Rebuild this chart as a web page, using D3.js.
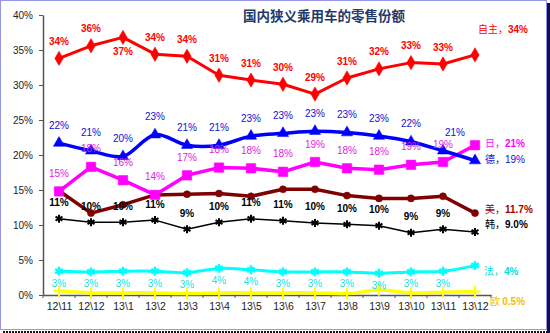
<!DOCTYPE html>
<html><head><meta charset="utf-8">
<script src="https://cdn.jsdelivr.net/npm/d3@7"></script>
<style>
html,body{margin:0;padding:0;background:#fff;}
svg{display:block;}
</style></head>
<body>
<script>
// ---- data ----
const categories = ["12\\11","12\\12","13\\1","13\\2","13\\3","13\\4","13\\5","13\\6","13\\7","13\\8","13\\9","13\\10","13\\11","13\\12"];
const yTicks = [0, 5, 10, 15, 20, 25, 30, 35, 40];
const zizhu = [33.8,35.6,36.8,34.4,34.1,31.4,30.7,30.1,28.7,31.0,32.3,33.2,33.0,34.3]; // 自主
const de    = [21.7,20.6,19.8,22.9,21.4,21.4,22.7,23.1,23.4,23.2,22.7,21.9,20.6,19.2]; // 德
const ri    = [14.8,18.3,16.4,14.3,17.1,18.2,18.1,17.6,19.0,18.1,17.9,18.6,19.0,21.4]; // 日
const mei   = [14.9,11.7,12.9,14.3,14.4,14.5,14.1,15.1,15.1,14.2,13.8,13.8,14.1,11.7]; // 美
const han   = [10.9,10.4,10.4,10.7,9.4,10.4,10.9,10.6,10.3,10.1,9.9,8.9,9.4,9.0];    // 韩
const fa    = [3.4,3.3,3.4,3.4,3.2,3.8,3.6,3.3,3.3,3.3,3.1,3.3,3.4,4.2];             // 法
const ou    = [0.6,0.3,0.3,0.3,0.2,0.3,0.3,0.3,0.3,0.2,0.7,0.3,0.4,0.5];             // 欧
const endLabels = ["自主，", "德，", "日，", "美，", "韩，", "法，", "欧 "];
const endValues = ["34%", "19%", "21%", "11.7%", "9.0%", "4%", "0.5%"];
const title = "国内狭义乘用车的零售份额";

// ---- drawing ----
const W = 550, H = 333;
const svg = d3.select("body").append("svg").attr("width", W).attr("height", H);
svg.append("rect").attr("width", W).attr("height", H).attr("fill", "#fff");

// frame
svg.append("rect").attr("x", 547).attr("y", 3).attr("width", 3).attr("height", 330).attr("fill", "#10104a");
svg.append("rect").attr("x", 0.5).attr("y", 0.5).attr("width", 546).attr("height", 329)
  .attr("fill", "none").attr("stroke", "#2a2ad8").attr("stroke-dasharray", "1,1");
svg.append("line").attr("x1", 3).attr("x2", 547).attr("y1", 332).attr("y2", 332)
  .attr("stroke", "#111").attr("stroke-width", 2).attr("stroke-dasharray", "2,1");

const x = d3.scalePoint().domain(categories).range([43, 491]).padding(0.5);
const y = d3.scaleLinear().domain([0, 40]).range([295, 15]);

const font = "'Liberation Sans', Arial, sans-serif";
const cjk = "'Noto Sans CJK SC', sans-serif";

// y axis
const ya = svg.append("g").attr("transform", "translate(43,0)")
  .call(d3.axisLeft(y).tickValues(yTicks).tickFormat(d => d + "%").tickSize(4).tickSizeOuter(0).tickPadding(6));
ya.select(".domain").attr("stroke", "#555").attr("stroke-width", 1.5);
ya.selectAll(".tick line").attr("stroke", "#555");
ya.selectAll(".tick text").attr("font-family", font).attr("font-size", "10px").attr("fill", "#222");

// x axis
const xa = svg.append("g").attr("transform", "translate(0,295)")
  .call(d3.axisBottom(x).tickSize(0).tickPadding(8));
xa.select(".domain").attr("stroke", "#555").attr("stroke-width", 1.5);
xa.selectAll(".tick text").attr("font-family", font).attr("font-size", "10.5px").attr("fill", "#222");
const step = x.step();
const bounds = categories.map(c => x(c) - step / 2).concat([x(categories[categories.length - 1]) + step / 2]);
svg.append("g").selectAll("line").data(bounds).join("line")
  .attr("x1", d => d).attr("x2", d => d).attr("y1", 295).attr("y2", 298)
  .attr("stroke", "#555");

// title
svg.append("text").attr("x", 243).attr("y", 21).text(title)
  .attr("font-family", cjk).attr("font-size", "13.5px").attr("font-weight", "bold").attr("fill", "#1f3a6a");

const series = [
  {vals: ou,    color: "#ffff00", width: 3.5, curve: d3.curveCatmullRom, sym: d3.symbolPlus, size: 45, stroke: true},
  {vals: fa,    color: "#00ffff", width: 3,   curve: d3.curveCatmullRom, sym: d3.symbolAsterisk, size: 55, stroke: true, sw: 2.5},
  {vals: han,   color: "#000000", width: 1.5, curve: d3.curveLinear, sym: d3.symbolAsterisk, size: 45, stroke: true, sw: 2},
  {vals: mei,   color: "#800000", width: 3.5, curve: d3.curveLinear, sym: d3.symbolCircle, size: 40},
  {vals: ri,    color: "#ff00ff", width: 3.5, curve: d3.curveLinear, sym: d3.symbolSquare, size: 90},
  {vals: de,    color: "#0000ff", width: 3.5, curve: d3.curveCatmullRom, sym: d3.symbolTriangle, size: 55},
  {vals: zizhu, color: "#ff0000", width: 3,   curve: d3.curveLinear, sym: d3.symbolDiamond, size: 60},
];

series.forEach(s => {
  const line = d3.line().x((d, i) => x(categories[i])).y(d => y(d)).curve(s.curve);
  svg.append("path").datum(s.vals).attr("d", line)
    .attr("fill", "none").attr("stroke", s.color).attr("stroke-width", s.width).attr("stroke-linejoin", "round");
  const g = svg.append("g");
  g.selectAll("path").data(s.vals).join("path")
    .attr("transform", (d, i) => `translate(${x(categories[i])},${y(d)})`)
    .attr("d", d3.symbol(s.sym, s.size))
    .attr("fill", s.stroke ? "none" : s.color)
    .attr("stroke", s.color).attr("stroke-width", s.stroke ? (s.sw || 2) : 0.5);
});

// point labels (last point labelled at the right)
function pointLabels(vals, color, dy, opts) {
  opts = opts || {};
  svg.append("g").selectAll("text").data(vals.slice(0, -1)).join("text")
    .attr("x", (d, i) => x(categories[i]) + ((opts.dx && opts.dx[i]) || 0))
    .attr("y", (d, i) => y(d) + ((opts.dy && opts.dy[i] !== undefined) ? opts.dy[i] : dy))
    .attr("dy", "0.35em")
    .attr("text-anchor", "middle")
    .attr("font-family", font).attr("font-size", opts.size || "10px")
    .attr("font-weight", opts.bold ? "bold" : "normal")
    .attr("fill", color)
    .text(d => Math.round(d) + "%");
}
pointLabels(zizhu, "#ff0000", -17, {bold: true, dy: {2: 14}});
pointLabels(de, "#1010d0", -18, {size: "10px", dx: {12: 12}});
pointLabels(ri, "#e020e0", -18, {size: "10px"});
pointLabels(han, "#000000", -16, {bold: true});
pointLabels(fa, "#20e0e0", 12, {size: "10px"});

// end labels
const lastX = x(categories[categories.length - 1]);
const endCfg = [
  {vals: zizhu, color: "#ff0000", dx: 3,  dy: -28},
  {vals: de,    color: "#1010d0", dx: 10, dy: -3, normal: true},
  {vals: ri,    color: "#ff00ff", dx: 10, dy: -4},
  {vals: mei,   color: "#a00000", dx: 10, dy: -6},
  {vals: han,   color: "#000000", dx: 10, dy: -10},
  {vals: fa,    color: "#00e0e0", dx: 9,  dy: 4},
  {vals: ou,    color: "#f0c000", dx: 15, dy: 8},
];
endCfg.forEach((c, k) => {
  const t = svg.append("text")
    .attr("x", lastX + c.dx).attr("y", y(c.vals[c.vals.length - 1]) + c.dy).attr("dy", "0.35em")
    .attr("fill", c.color);
  t.append("tspan").attr("font-family", cjk).attr("font-size", "10px").text(endLabels[k]);
  t.append("tspan").attr("font-family", font).attr("font-size", "10px")
    .attr("font-weight", c.normal ? "normal" : "bold").text(endValues[k]);
});
</script>
</body></html>
